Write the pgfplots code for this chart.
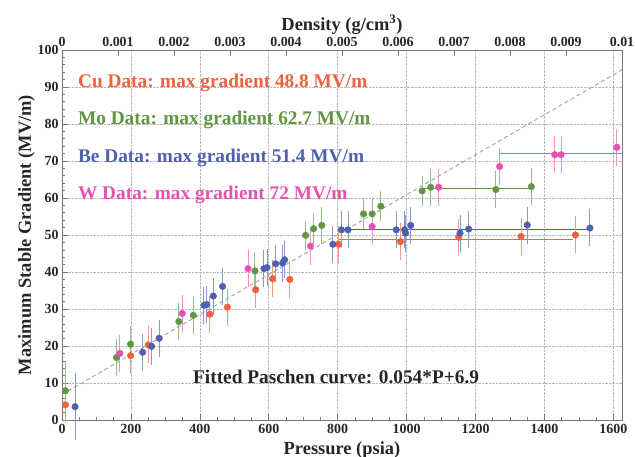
\documentclass[border=0pt]{standalone}
\usepackage{fontspec}
\setmainfont{Liberation Serif}
\usepackage{pgfplots}
\pgfplotsset{compat=1.18}
\definecolor{cu}{RGB}{238,98,62}
\definecolor{mo}{RGB}{98,150,66}
\definecolor{be}{RGB}{78,96,176}
\definecolor{wc}{RGB}{230,82,180}
\definecolor{frame}{RGB}{120,120,120}
\newcommand{\tickfont}{\fontsize{14}{14}\selectfont\bfseries}
\newcommand{\labfont}{\fontsize{18.5}{20}\selectfont\bfseries}
\newcommand{\txtfont}{\fontsize{19.4}{21}\selectfont\bfseries}
\begin{document}
\begin{tikzpicture}
\begin{axis}[name=ax, scale only axis, width=560bp, height=370bp,
  xmin=0, xmax=1625, ymin=0, ymax=100,
  xtick={0,200,...,1600}, minor x tick num=3,
  ytick={0,10,...,100}, minor y tick num=4,
  tick pos=left, tick align=inside,
  major tick length=6bp, minor tick length=3bp,
  every tick/.style={frame, line width=0.6pt},
  axis line style={frame, line width=0.8pt},
  grid=major, major grid style={densely dotted, gray!55, line width=0.6pt},
  /pgf/number format/assume math mode=true,
  /pgf/number format/1000 sep={},
  ticklabel style={font=\tickfont, text=black!85},
  xticklabel style={yshift=-1bp},
  xlabel={Pressure (psia)}, xlabel style={font=\labfont, text=black!85, yshift=-1bp},
  ylabel={Maximum Stable Gradient (MV/m)}, ylabel style={font=\labfont, text=black!85, yshift=-4bp},
  clip=false]
% fitted Paschen line
\addplot[gray!75, dashed, dash pattern=on 4bp off 3bp, line width=0.9pt] coordinates {(0,6.9) (1625,94.65)};
% max gradient lines
\addplot[cu, line width=1pt] coordinates {(800,48.8) (1482,48.8)};
\addplot[be, line width=1pt] coordinates {(805,51.4) (1532,51.4)};
\addplot[mo, line width=1pt] coordinates {(1045,62.7) (1362,62.7)};
\addplot[wc, line width=1pt] coordinates {(1270,72) (1625,72)};
% Cu
\addplot[only marks, mark=*, mark size=3.3bp, cu, mark options={draw=cu, fill=cu},
  error bars/.cd, y dir=both, y explicit, error mark=none,
  error bar style={cu!65, line width=1pt}]
  table[x=x, y=y, y error=e] {
x y e
10 4.1 5
199 17.4 5
250 20.3 5
429 28.6 5
480 30.5 5
562 35.2 5
611 38.2 5
661 38.0 5
802 47.5 5
982 48.2 5
1151 49.4 5
1332 49.6 5
1490 50.0 5
};
% Mo
\addplot[only marks, mark=*, mark size=3.3bp, mo, mark options={draw=mo, fill=mo},
  error bars/.cd, y dir=both, y explicit, error mark=none,
  error bar style={mo!65, line width=1pt}]
  table[x=x, y=y, y error=e] {
x y e
10 7.9 8
158 16.9 5
199 20.5 5
339 26.6 5
381 28.3 5
560 40.3 5
707 49.9 4
730 51.7 4
754 52.6 5
875 55.7 4
900 55.7 4
925 57.8 4
1045 61.9 4
1070 62.9 5
1259 62.3 5
1362 63.1 5
};
% Be
\addplot[only marks, mark=*, mark size=3.3bp, be, mark options={draw=be, fill=be},
  error bars/.cd, y dir=both, y explicit, error mark=none,
  error bar style={be!65, line width=1pt}]
  table[x=x, y=y, y error=e] {
x y e
38 3.6 9
234 18.3 5
260 19.9 5
282 22.1 5
412 31.0 5
420 31.2 5
439 33.5 5
466 36.1 5
586 40.9 5
595 41.2 5
620 42.2 5
640 42.4 5
646 43.3 5
786 47.5 5
811 51.4 5
830 51.4 5
970 51.4 5
994 51.4 5
997 50.5 5
1012 52.6 5
1155 50.5 5
1180 51.6 5
1350 52.7 5
1532 51.9 5
};
% W
\addplot[only marks, mark=*, mark size=3.3bp, wc, mark options={draw=wc, fill=wc},
  error bars/.cd, y dir=both, y explicit, error mark=none,
  error bar style={wc!65, line width=1pt}]
  table[x=x, y=y, y error=e] {
x y e
168 18.0 5
349 28.8 5
540 40.9 5
721 47.0 5
900 52.3 5
1093 62.9 5
1270 68.5 5
1430 71.7 5
1448 71.7 5
1610 73.7 5
};
\node[anchor=west, inner sep=0pt, text=cu, font=\txtfont] at (axis cs:46,91.1) {Cu Data: max gradient 48.8 MV/m};
\node[anchor=west, inner sep=0pt, text=mo, font=\txtfont] at (axis cs:46,81.1) {Mo Data: max gradient 62.7 MV/m};
\node[anchor=west, inner sep=0pt, text=be, font=\txtfont] at (axis cs:46,70.8) {Be Data: max gradient 51.4 MV/m};
\node[anchor=west, inner sep=0pt, text=wc, font=\txtfont] at (axis cs:46,60.8) {W Data: max gradient 72 MV/m};
\node[anchor=west, inner sep=0pt, text=black!85, font=\txtfont] at (axis cs:380,11.6) {Fitted Paschen curve: 0.054*P+6.9};
\end{axis}
\begin{axis}[scale only axis, width=560bp, height=370bp,
  xmin=0, xmax=0.01, ymin=0, ymax=100,
  axis x line*=top, hide y axis, scaled x ticks=false,
  xtick={0,0.001,0.002,0.003,0.004,0.005,0.006,0.007,0.008,0.009,0.01},
  xticklabels={0,0.001,0.002,0.003,0.004,0.005,0.006,0.007,0.008,0.009,0.01},
  tick align=inside, major tick length=6bp,
  every tick/.style={frame, line width=0.6pt},
  axis line style={frame, line width=0.8pt},
  ticklabel style={font=\tickfont, text=black!85},
  xlabel={Density (g/cm\textsuperscript{3})}, xlabel style={font=\labfont, text=black!85, yshift=-4bp}]
\end{axis}
\pgfresetboundingbox
\path ([shift={(-62bp,-37bp)}]ax.south west) rectangle ([shift={(13bp,50bp)}]ax.north east);
\end{tikzpicture}
\end{document}
